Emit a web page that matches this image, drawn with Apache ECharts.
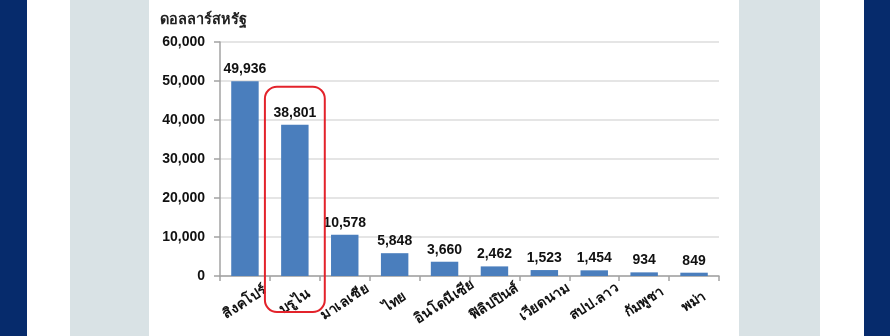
<!DOCTYPE html>
<html><head><meta charset="utf-8">
<script src="https://cdn.jsdelivr.net/npm/echarts@6/dist/echarts.min.js"></script>
<style>
html,body{margin:0;padding:0;}
body{width:890px;height:336px;overflow:hidden;
background:linear-gradient(to right,#062b6c 0,#062b6c 27px,#ffffff 27px,#ffffff 70px,#d9e2e5 70px,#d9e2e5 149px,#ffffff 149px,#ffffff 739px,#d9e2e5 739px,#d9e2e5 820px,#ffffff 820px,#ffffff 864px,#062b6c 864px);}
#c{width:890px;height:336px;}
</style></head><body>
<div id="c"></div>
<script>
const categories = ['สิงคโปร์','บรูไน','มาเลเซีย','ไทย','อินโดนีเซีย','ฟิลิปปินส์','เวียดนาม','สปป.ลาว','กัมพูชา','พม่า'];
const values = [49936, 38801, 10578, 5848, 3660, 2462, 1523, 1454, 934, 849];
const unitLabel = 'ดอลลาร์สหรัฐ';
const highlightIndex = 1;
const FONT = "'Liberation Sans','Noto Sans',sans-serif";

const chart = echarts.init(document.getElementById('c'), null, {renderer:'canvas'});
chart.setOption({
  animation:false,
  backgroundColor:'transparent',
  textStyle:{fontFamily:FONT},
  title:{text:unitLabel,left:155,top:7,textStyle:{fontSize:14.5,fontWeight:'bold',color:'#222',fontFamily:FONT}},
  grid:{left:220,right:171,top:42,bottom:60,containLabel:false},
  xAxis:{type:'category',data:categories,
    axisLine:{lineStyle:{color:'#a3a3a3',width:1.5}},
    axisTick:{show:true,length:5,lineStyle:{color:'#a3a3a3',width:1.5}},
    axisLabel:{rotate:33,align:'center',verticalAlign:'middle',margin:26,interval:0,color:'#111',fontSize:14,fontWeight:'bold',fontFamily:FONT}},
  yAxis:{type:'value',min:0,max:60000,interval:10000,
    axisLine:{show:true,lineStyle:{color:'#a3a3a3',width:1.5}},
    axisTick:{show:true,length:6,lineStyle:{color:'#a3a3a3',width:1.5}},
    splitLine:{lineStyle:{color:'#dcdcdc',width:1.5}},
    axisLabel:{margin:15,color:'#111',fontSize:14,fontWeight:'bold',fontFamily:FONT,
      formatter:v=>v.toLocaleString('en-US')}},
  series:[{type:'bar',data:values,barWidth:'55%',
    itemStyle:{color:'#4a7ebd'},
    label:{show:true,position:'top',distance:5,color:'#111',fontSize:14,fontWeight:'bold',fontFamily:FONT,
      formatter:p=>p.value.toLocaleString('en-US')}}]
});
const cx = chart.convertToPixel({xAxisIndex:0}, highlightIndex);
const yTop = chart.convertToPixel({yAxisIndex:0}, values[highlightIndex]);
const y0 = chart.convertToPixel({yAxisIndex:0}, 0);
const cw = chart.convertToPixel({xAxisIndex:0}, 1) - chart.convertToPixel({xAxisIndex:0}, 0);
chart.setOption({graphic:[{type:'rect',shape:{x:cx-cw*0.6,y:yTop-38,width:cw*1.2,height:(y0+36)-(yTop-38),r:12},
  style:{fill:'none',stroke:'#e3232b',lineWidth:2},z:10}]});
</script>
</body></html>
